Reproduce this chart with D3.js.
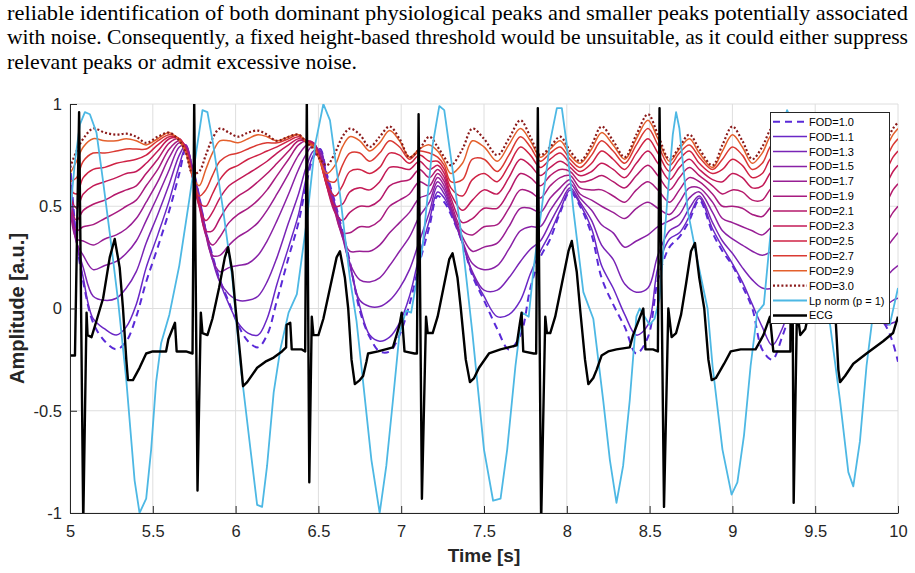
<!DOCTYPE html>
<html>
<head>
<meta charset="utf-8">
<script src="https://cdn.jsdelivr.net/npm/d3@7"></script>
<style>
  html, body { margin: 0; padding: 0; background: #fff; }
  svg { display: block; }
</style>
</head>
<body>
<svg id="fig" width="915" height="573"></svg>
<script>
// ---- text above the figure ----
const paraLines = [
  "reliable identification of both dominant physiological peaks and smaller peaks potentially associated",
  "with noise. Consequently, a fixed height-based threshold would be unsuitable, as it could either suppress",
  "relevant peaks or admit excessive noise."
];

// ---- axes ----
const xTicks = [5, 5.5, 6, 6.5, 7, 7.5, 8, 8.5, 9, 9.5, 10];
const xTickLabels = ["5", "5.5", "6", "6.5", "7", "7.5", "8", "8.5", "9", "9.5", "10"];
const yTicks = [-1, -0.5, 0, 0.5, 1];
const yTickLabels = ["-1", "-0.5", "0", "0.5", "1"];

// ---- FOD curves (shared time base) ----
const fodTime = [
  5.00, 5.04, 5.08, 5.14, 5.21, 5.28, 5.34, 5.40, 5.46, 5.53, 5.60, 5.66,
  5.70, 5.74, 5.78, 5.82, 5.86, 5.905, 5.96, 6.015, 6.075, 6.135, 6.19, 6.25, 6.32, 6.38, 6.43,
  6.47, 6.51, 6.55, 6.60, 6.645, 6.69, 6.75, 6.81, 6.87, 6.93, 6.99, 7.05, 7.11, 7.17, 7.22,
  7.26, 7.30, 7.37, 7.43, 7.50, 7.58, 7.65, 7.72, 7.78, 7.84, 7.90, 7.96,
  8.02, 8.08, 8.15, 8.21, 8.28, 8.35, 8.42, 8.49, 8.55, 8.62, 8.68, 8.74, 8.80,
  8.88, 8.94, 9.00, 9.06, 9.12, 9.18, 9.24, 9.30, 9.37, 9.43, 9.50, 9.56, 9.62,
  9.68, 9.75, 9.81, 9.87, 9.93, 9.97, 10.00
];

const fod30 = [
  0.69, 0.77, 0.83, 0.88, 0.86, 0.85, 0.855, 0.84, 0.81, 0.84, 0.86, 0.82,
  0.76, 0.66, 0.67, 0.75, 0.83, 0.88, 0.86, 0.84, 0.86, 0.87, 0.85, 0.82, 0.84, 0.85, 0.81,
  0.78, 0.73, 0.70, 0.76, 0.84, 0.88, 0.85, 0.79, 0.84, 0.89, 0.83, 0.74, 0.78, 0.84, 0.79,
  0.74, 0.70, 0.78, 0.88, 0.83, 0.75, 0.83, 0.92, 0.84, 0.75, 0.79, 0.84,
  0.77, 0.72, 0.80, 0.89, 0.82, 0.74, 0.85, 0.95, 0.85, 0.73, 0.79, 0.85, 0.78,
  0.70, 0.80, 0.89, 0.82, 0.73, 0.79, 0.88, 0.80, 0.72, 0.80, 0.88, 0.80, 0.73,
  0.76, 0.86, 0.82, 0.74, 0.82, 0.88, 0.91
];
const fod29 = [
  0.66, 0.72, 0.79, 0.83, 0.82, 0.82, 0.83, 0.82, 0.80, 0.83, 0.86, 0.82,
  0.76, 0.65, 0.60, 0.68, 0.76, 0.82, 0.82, 0.81, 0.83, 0.85, 0.84, 0.82, 0.84, 0.85, 0.81,
  0.79, 0.72, 0.66, 0.70, 0.79, 0.84, 0.82, 0.77, 0.81, 0.87, 0.82, 0.74, 0.78, 0.80, 0.77,
  0.72, 0.66, 0.71, 0.82, 0.79, 0.72, 0.80, 0.88, 0.82, 0.74, 0.78, 0.82,
  0.75, 0.71, 0.78, 0.86, 0.80, 0.73, 0.83, 0.92, 0.83, 0.72, 0.78, 0.83, 0.76,
  0.69, 0.77, 0.85, 0.79, 0.71, 0.76, 0.85, 0.78, 0.72, 0.80, 0.87, 0.80, 0.73,
  0.72, 0.80, 0.78, 0.72, 0.79, 0.85, 0.88
];
const fod27 = [
  0.62, 0.64, 0.72, 0.76, 0.76, 0.77, 0.78, 0.78, 0.78, 0.82, 0.85, 0.83,
  0.77, 0.65, 0.55, 0.58, 0.65, 0.72, 0.75, 0.76, 0.78, 0.80, 0.81, 0.81, 0.83, 0.85, 0.81,
  0.80, 0.72, 0.63, 0.62, 0.70, 0.76, 0.76, 0.72, 0.76, 0.82, 0.79, 0.73, 0.77, 0.76, 0.74,
  0.70, 0.62, 0.63, 0.73, 0.73, 0.67, 0.75, 0.84, 0.79, 0.72, 0.76, 0.79,
  0.73, 0.69, 0.75, 0.82, 0.77, 0.71, 0.80, 0.88, 0.80, 0.70, 0.76, 0.80, 0.74,
  0.68, 0.73, 0.79, 0.75, 0.68, 0.71, 0.80, 0.75, 0.71, 0.78, 0.85, 0.80, 0.73,
  0.68, 0.72, 0.72, 0.68, 0.74, 0.80, 0.83
];
const fod25 = [
  0.58, 0.56, 0.64, 0.68, 0.69, 0.71, 0.72, 0.73, 0.75, 0.80, 0.84, 0.83,
  0.77, 0.64, 0.52, 0.50, 0.56, 0.63, 0.68, 0.70, 0.73, 0.75, 0.77, 0.79, 0.82, 0.84, 0.82,
  0.80, 0.72, 0.61, 0.55, 0.60, 0.67, 0.68, 0.66, 0.69, 0.76, 0.75, 0.71, 0.75, 0.72, 0.72,
  0.68, 0.59, 0.55, 0.63, 0.66, 0.62, 0.70, 0.79, 0.75, 0.69, 0.73, 0.76,
  0.71, 0.67, 0.71, 0.77, 0.73, 0.68, 0.76, 0.83, 0.76, 0.67, 0.73, 0.77, 0.71,
  0.66, 0.68, 0.73, 0.70, 0.64, 0.66, 0.74, 0.71, 0.69, 0.76, 0.82, 0.79, 0.73,
  0.64, 0.64, 0.65, 0.63, 0.68, 0.74, 0.77
];
const fod23 = [
  0.55, 0.49, 0.56, 0.60, 0.62, 0.64, 0.66, 0.67, 0.71, 0.77, 0.83, 0.83,
  0.78, 0.64, 0.50, 0.43, 0.47, 0.54, 0.60, 0.63, 0.66, 0.69, 0.72, 0.76, 0.80, 0.83, 0.82,
  0.80, 0.73, 0.60, 0.50, 0.51, 0.57, 0.59, 0.58, 0.62, 0.69, 0.69, 0.68, 0.72, 0.68, 0.70,
  0.66, 0.56, 0.48, 0.53, 0.58, 0.56, 0.64, 0.73, 0.70, 0.65, 0.69, 0.72,
  0.69, 0.65, 0.67, 0.71, 0.68, 0.64, 0.71, 0.77, 0.71, 0.63, 0.69, 0.73, 0.68,
  0.63, 0.62, 0.66, 0.64, 0.59, 0.60, 0.67, 0.66, 0.66, 0.73, 0.79, 0.78, 0.73,
  0.60, 0.56, 0.57, 0.56, 0.61, 0.67, 0.70
];
const fod21 = [
  0.52, 0.43, 0.48, 0.51, 0.53, 0.56, 0.58, 0.60, 0.66, 0.73, 0.81, 0.83,
  0.78, 0.64, 0.50, 0.38, 0.38, 0.44, 0.51, 0.55, 0.58, 0.62, 0.66, 0.71, 0.77, 0.82, 0.82,
  0.81, 0.73, 0.60, 0.47, 0.43, 0.47, 0.50, 0.50, 0.53, 0.60, 0.62, 0.63, 0.68, 0.64, 0.68,
  0.64, 0.54, 0.42, 0.44, 0.49, 0.49, 0.57, 0.66, 0.64, 0.60, 0.65, 0.68,
  0.67, 0.62, 0.63, 0.65, 0.62, 0.59, 0.65, 0.70, 0.65, 0.58, 0.64, 0.69, 0.65,
  0.60, 0.56, 0.58, 0.57, 0.53, 0.53, 0.59, 0.59, 0.61, 0.69, 0.75, 0.76, 0.72,
  0.57, 0.48, 0.48, 0.48, 0.52, 0.58, 0.61
];
const fod19 = [
  0.50, 0.38, 0.40, 0.41, 0.44, 0.47, 0.50, 0.53, 0.60, 0.68, 0.78, 0.82,
  0.79, 0.65, 0.51, 0.36, 0.31, 0.35, 0.42, 0.46, 0.49, 0.53, 0.58, 0.65, 0.73, 0.80, 0.82,
  0.81, 0.74, 0.61, 0.47, 0.37, 0.37, 0.40, 0.40, 0.43, 0.50, 0.53, 0.56, 0.62, 0.60, 0.66,
  0.62, 0.52, 0.38, 0.36, 0.40, 0.41, 0.49, 0.58, 0.57, 0.54, 0.60, 0.64,
  0.65, 0.59, 0.58, 0.58, 0.55, 0.52, 0.58, 0.62, 0.58, 0.52, 0.58, 0.64, 0.62,
  0.56, 0.50, 0.50, 0.49, 0.46, 0.45, 0.50, 0.51, 0.55, 0.63, 0.70, 0.73, 0.71,
  0.55, 0.41, 0.38, 0.38, 0.42, 0.47, 0.50
];
const fod17 = [
  0.50, 0.34, 0.33, 0.31, 0.34, 0.36, 0.39, 0.44, 0.52, 0.62, 0.74, 0.81,
  0.79, 0.66, 0.52, 0.36, 0.26, 0.26, 0.31, 0.35, 0.38, 0.42, 0.48, 0.56, 0.66, 0.75, 0.80,
  0.81, 0.75, 0.62, 0.48, 0.35, 0.28, 0.28, 0.28, 0.31, 0.37, 0.42, 0.47, 0.54, 0.56, 0.64,
  0.60, 0.50, 0.35, 0.28, 0.30, 0.32, 0.40, 0.49, 0.49, 0.47, 0.54, 0.59,
  0.63, 0.56, 0.53, 0.50, 0.47, 0.44, 0.49, 0.52, 0.49, 0.46, 0.52, 0.59, 0.59,
  0.52, 0.44, 0.42, 0.40, 0.38, 0.36, 0.40, 0.42, 0.47, 0.56, 0.64, 0.70, 0.70,
  0.54, 0.36, 0.28, 0.27, 0.30, 0.34, 0.37
];
const fod15 = [
  0.53, 0.32, 0.26, 0.19, 0.21, 0.23, 0.27, 0.33, 0.43, 0.55, 0.68, 0.79,
  0.80, 0.67, 0.53, 0.37, 0.24, 0.18, 0.20, 0.21, 0.22, 0.26, 0.33, 0.43, 0.56, 0.68, 0.76,
  0.80, 0.76, 0.63, 0.49, 0.35, 0.22, 0.14, 0.13, 0.15, 0.21, 0.28, 0.35, 0.45, 0.52, 0.62,
  0.58, 0.49, 0.33, 0.22, 0.19, 0.21, 0.29, 0.38, 0.40, 0.40, 0.48, 0.55,
  0.61, 0.54, 0.48, 0.41, 0.37, 0.30, 0.33, 0.36, 0.40, 0.43, 0.46, 0.54, 0.57,
  0.47, 0.38, 0.34, 0.31, 0.28, 0.26, 0.28, 0.30, 0.37, 0.47, 0.58, 0.66, 0.69,
  0.53, 0.33, 0.19, 0.14, 0.16, 0.19, 0.21
];
const fod13 = [
  0.58, 0.32, 0.20, 0.06, 0.04, 0.05, 0.10, 0.18, 0.32, 0.46, 0.61, 0.75,
  0.80, 0.68, 0.54, 0.38, 0.24, 0.13, 0.07, 0.04, 0.04, 0.06, 0.13, 0.25, 0.42, 0.56, 0.70,
  0.77, 0.77, 0.64, 0.50, 0.36, 0.21, 0.04, 0.01, 0.01, 0.04, 0.10, 0.19, 0.33, 0.47, 0.60,
  0.56, 0.48, 0.32, 0.18, 0.09, 0.09, 0.15, 0.23, 0.29, 0.33, 0.42, 0.51,
  0.59, 0.52, 0.43, 0.31, 0.24, 0.12, 0.08, 0.10, 0.26, 0.38, 0.41, 0.49, 0.55,
  0.42, 0.33, 0.27, 0.20, 0.14, 0.10, 0.10, 0.14, 0.24, 0.37, 0.50, 0.61, 0.68,
  0.52, 0.31, 0.14, 0.02, 0.02, 0.04, 0.05
];
const fod11 = [
  0.66, 0.33, 0.15, -0.05, -0.10, -0.13, -0.09, 0.02, 0.20, 0.36, 0.53, 0.70,
  0.79, 0.69, 0.55, 0.38, 0.25, 0.13, 0.02, -0.07, -0.12, -0.13, -0.05, 0.12, 0.30, 0.46, 0.65,
  0.75, 0.78, 0.65, 0.51, 0.37, 0.22, 0.01, -0.13, -0.16, -0.14, -0.07, 0.06, 0.26, 0.43, 0.57,
  0.54, 0.47, 0.32, 0.17, 0.06, -0.04, -0.03, 0.04, 0.17, 0.28, 0.37, 0.48,
  0.58, 0.51, 0.39, 0.21, 0.10, -0.03, -0.13, -0.08, 0.20, 0.34, 0.37, 0.45, 0.54,
  0.39, 0.30, 0.22, 0.13, 0.02, -0.09, -0.18, -0.10, 0.08, 0.26, 0.43, 0.57, 0.66,
  0.51, 0.30, 0.12, -0.01, -0.08, -0.07, -0.06
];
const fod10 = [
  0.72, 0.33, 0.13, -0.07, -0.16, -0.20, -0.16, -0.04, 0.13, 0.30, 0.48, 0.66,
  0.78, 0.69, 0.55, 0.38, 0.26, 0.14, 0.03, -0.08, -0.16, -0.19, -0.13, 0.04, 0.25, 0.42, 0.62,
  0.74, 0.78, 0.66, 0.52, 0.38, 0.23, -0.01, -0.14, -0.21, -0.21, -0.13, 0.02, 0.22, 0.40, 0.55,
  0.52, 0.46, 0.32, 0.16, 0.04, -0.10, -0.20, -0.13, 0.10, 0.25, 0.34, 0.47,
  0.57, 0.50, 0.36, 0.15, 0.02, -0.09, -0.22, -0.14, 0.14, 0.30, 0.35, 0.43, 0.53,
  0.37, 0.28, 0.21, 0.11, 0.00, -0.20, -0.25, -0.14, 0.04, 0.22, 0.40, 0.55, 0.65,
  0.50, 0.30, 0.12, -0.02, -0.09, -0.17, -0.26
];

// ---- Lp norm (p = 1) ----
const lpT = [
  5.00, 5.03, 5.06, 5.09, 5.12, 5.16, 5.20, 5.24, 5.29, 5.34, 5.39, 5.42, 5.46, 5.49, 5.52, 5.55,
  5.60, 5.66, 5.72, 5.765, 5.80, 5.83, 5.865, 5.925, 5.98, 6.03, 6.09, 6.13, 6.16, 6.19, 6.23, 6.27,
  6.32, 6.37, 6.43, 6.48, 6.53, 6.57, 6.63, 6.69, 6.73, 6.77, 6.82, 6.87, 6.91, 6.95, 6.99, 7.03,
  7.06, 7.13, 7.19, 7.23, 7.26, 7.31, 7.37, 7.43, 7.50, 7.555, 7.60, 7.64, 7.69, 7.73, 7.77, 7.80,
  7.85, 7.90, 7.94, 7.97, 8.00, 8.04, 8.10, 8.16, 8.22, 8.26, 8.30, 8.34, 8.38, 8.42, 8.44, 8.50,
  8.53, 8.56, 8.61, 8.64, 8.66, 8.68, 8.73, 8.79, 8.85, 8.88, 8.94, 8.995, 9.03, 9.07, 9.11, 9.15,
  9.19, 9.24, 9.29, 9.33, 9.37, 9.43, 9.50, 9.55, 9.59, 9.65, 9.70, 9.73, 9.77, 9.81, 9.85, 9.90,
  9.95, 10.00
];
const lpV = [
  0.46, 0.72, 0.90, 0.96, 0.95, 0.86, 0.62, 0.37, 0.04, -0.35, -0.84, -1.00, -0.93, -0.69, -0.36, -0.17,
  -0.03, 0.21, 0.53, 0.78, 0.97, 0.96, 0.80, 0.48, 0.15, -0.28, -0.69, -0.96, -0.97, -0.77, -0.41, -0.20,
  -0.02, 0.07, 0.43, 0.80, 1.00, 0.92, 0.56, 0.15, -0.06, -0.36, -0.74, -1.00, -0.77, -0.45, -0.12, -0.01,
  -0.02, 0.31, 0.80, 0.99, 0.97, 0.68, 0.32, -0.12, -0.69, -0.94, -0.93, -0.69, -0.28, -0.02, -0.04, 0.20,
  0.50, 0.82, 0.98, 0.98, 0.80, 0.48, 0.08, -0.05, -0.45, -0.74, -0.95, -0.77, -0.45, -0.04, 0.00, -0.08,
  -0.05, 0.05, 0.56, 0.85, 0.96, 0.88, 0.48, 0.23, 0.00, -0.28, -0.69, -0.91, -0.85, -0.62, -0.28, -0.02,
  0.02, 0.45, 0.85, 0.97, 0.90, 0.55, 0.15, 0.00, -0.08, -0.45, -0.80, -0.87, -0.65, -0.28, -0.02, -0.05,
  -0.08, 0.10
];

// ---- ECG ----
const ecgT = [
  5.000, 5.030, 5.055, 5.080, 5.100, 5.106, 5.130, 5.160, 5.200, 5.240, 5.270, 5.300, 5.320, 5.340,
  5.350, 5.380, 5.420, 5.460, 5.500, 5.580, 5.594, 5.634, 5.644, 5.700, 5.740,
  5.750, 5.770, 5.790, 5.800, 5.830, 5.860, 5.900, 5.935, 5.955, 5.980, 6.000, 6.030, 6.045, 6.070,
  6.130, 6.180, 6.230, 6.280, 6.305, 6.308, 6.330, 6.339, 6.400, 6.420,
  6.430, 6.445, 6.460, 6.470, 6.500, 6.530, 6.570, 6.610, 6.630, 6.660, 6.680, 6.700, 6.720, 6.750,
  6.770, 6.790, 6.800, 6.860, 6.950, 6.990, 7.003, 7.020, 7.080, 7.095,
  7.105, 7.125, 7.150, 7.160, 7.190, 7.220, 7.260, 7.290, 7.310, 7.340, 7.360, 7.390, 7.415, 7.440,
  7.470, 7.530, 7.600, 7.697, 7.717, 7.727, 7.737, 7.800, 7.815,
  7.825, 7.845, 7.870, 7.880, 7.900, 7.930, 7.970, 8.010, 8.030, 8.060, 8.080, 8.110, 8.130, 8.160,
  8.180, 8.210, 8.250, 8.300, 8.380, 8.400, 8.462, 8.475, 8.520, 8.550,
  8.560, 8.587, 8.613, 8.633, 8.660, 8.690, 8.720, 8.750, 8.774, 8.800, 8.830, 8.855, 8.875, 8.900,
  8.950, 8.990, 9.050, 9.140, 9.187, 9.227, 9.247, 9.307, 9.350,
  9.358, 9.370, 9.390, 9.410, 9.440, 9.480, 9.530, 9.560, 9.590, 9.620, 9.640, 9.650, 9.680, 9.730,
  9.810, 9.910, 9.970, 10.000
];
const ecgV = [
  -0.23, -0.23, 0.96, -1.05, -0.02, -0.13, -0.14, -0.06, 0.05, 0.25, 0.34, 0.20, 0.00, -0.25,
  -0.35, -0.35, -0.29, -0.22, -0.21, -0.21, -0.15, -0.07, -0.21, -0.21, -0.22,
  1.02, -0.89, -0.02, -0.12, -0.13, -0.05, 0.10, 0.25, 0.30, 0.18, 0.00, -0.25, -0.38, -0.36,
  -0.29, -0.26, -0.24, -0.21, -0.19, -0.08, -0.07, -0.20, -0.20, -0.21,
  1.02, -0.85, -0.04, -0.13, -0.13, -0.05, 0.10, 0.25, 0.28, 0.15, 0.00, -0.25, -0.37, -0.35,
  -0.33, -0.26, -0.22, -0.21, -0.19, -0.08, -0.02, -0.21, -0.22, -0.22,
  0.95, -0.93, -0.04, -0.12, -0.12, -0.04, 0.12, 0.24, 0.27, 0.15, 0.00, -0.25, -0.36, -0.34,
  -0.29, -0.22, -0.20, -0.18, -0.07, -0.02, -0.21, -0.22, -0.22,
  0.98, -1.05, -0.04, -0.12, -0.12, -0.04, 0.12, 0.28, 0.33, 0.18, 0.00, -0.25, -0.37, -0.34,
  -0.30, -0.23, -0.21, -0.20, -0.19, -0.13, 0.00, -0.20, -0.20, -0.21,
  0.98, -0.97, 0.00, -0.14, -0.12, -0.03, 0.12, 0.28, 0.32, 0.15, 0.00, -0.25, -0.35, -0.34,
  -0.27, -0.21, -0.20, -0.20, -0.13, -0.04, -0.21, -0.21, -0.21,
  0.95, -0.95, 0.00, -0.13, -0.10, 0.05, 0.25, 0.30, 0.15, 0.00, -0.30, -0.36, -0.33, -0.27,
  -0.22, -0.16, -0.12, -0.04
];

const legendLabels = ["FOD=1.0", "FOD=1.1", "FOD=1.3", "FOD=1.5", "FOD=1.7", "FOD=1.9", "FOD=2.1",
  "FOD=2.3", "FOD=2.5", "FOD=2.7", "FOD=2.9", "FOD=3.0", "Lp norm (p = 1)", "ECG"];

// ---- drawing ----
const svg = d3.select("#fig");
const plot = { left: 70, right: 898, top: 104, bottom: 513 };

const x = d3.scaleLinear().domain([5, 10]).range([plot.left, plot.right]);
const y = d3.scaleLinear().domain([-1, 1]).range([plot.bottom, plot.top]);

svg.append("rect").attr("width", 915).attr("height", 573).attr("fill", "#fff");

// paragraph (justified lines)
const paraWidths = [901, 901, 350];
paraLines.forEach((s, i) => {
  svg.append("text")
    .attr("x", 7)
    .attr("y", 19.5 + i * 24.6)
    .attr("font-family", "'Liberation Serif', 'Times New Roman', serif")
    .attr("font-size", 21.5)
    .attr("fill", "#000")
    .attr("textLength", paraWidths[i])
    .attr("lengthAdjust", "spacingAndGlyphs")
    .text(s);
});

// grid
const grid = svg.append("g").attr("stroke", "#dedede").attr("stroke-width", 1);
grid.selectAll(".gx").data(xTicks).enter().append("line")
  .attr("x1", d => x(d)).attr("x2", d => x(d))
  .attr("y1", y(-1)).attr("y2", y(1));
grid.selectAll(".gy").data(yTicks).enter().append("line")
  .attr("x1", x(5)).attr("x2", x(10))
  .attr("y1", d => y(d)).attr("y2", d => y(d));

svg.append("clipPath").attr("id", "clip").append("rect")
  .attr("x", plot.left).attr("y", plot.top)
  .attr("width", plot.right - plot.left).attr("height", plot.bottom - plot.top);

const curves = svg.append("g").attr("clip-path", "url(#clip)");

const fodSeries = [
  { values: fod10, color: "#5a2ad8", width: 2.0, dash: "7,5" },
  { values: fod11, color: "#6a27c6", width: 1.5, dash: null },
  { values: fod13, color: "#7924b6", width: 1.5, dash: null },
  { values: fod15, color: "#8921a6", width: 1.5, dash: null },
  { values: fod17, color: "#981e94", width: 1.5, dash: null },
  { values: fod19, color: "#a71b80", width: 1.5, dash: null },
  { values: fod21, color: "#b5196b", width: 1.5, dash: null },
  { values: fod23, color: "#c31a57", width: 1.5, dash: null },
  { values: fod25, color: "#cf2244", width: 1.5, dash: null },
  { values: fod27, color: "#da3a33", width: 1.5, dash: null },
  { values: fod29, color: "#e4602c", width: 1.5, dash: null },
  { values: fod30, color: "#8b1a1a", width: 2.2, dash: "2,2.2" }
];

const fodLine = d3.line()
  .x((d, i) => x(fodTime[i]))
  .y(d => y(d))
  .curve(d3.curveCatmullRom.alpha(0.5));

fodSeries.forEach(s => {
  curves.append("path")
    .attr("d", fodLine(s.values))
    .attr("fill", "none")
    .attr("stroke", s.color)
    .attr("stroke-width", s.width)
    .attr("stroke-dasharray", s.dash);
});

const lpLine = d3.line().x((d, i) => x(lpT[i])).y(d => y(d));
curves.append("path")
  .attr("d", lpLine(lpV))
  .attr("fill", "none")
  .attr("stroke", "#4db8e4")
  .attr("stroke-width", 1.8)
  .attr("stroke-linejoin", "round");

const ecgLine = d3.line().x((d, i) => x(ecgT[i])).y(d => y(d));
curves.append("path")
  .attr("d", ecgLine(ecgV))
  .attr("fill", "none")
  .attr("stroke", "#000")
  .attr("stroke-width", 2.4)
  .attr("stroke-linejoin", "round");

// axes (MATLAB style: ticks inside, no box)
const axisFont = "'Liberation Sans', Arial, Helvetica, sans-serif";
const yAxis = svg.append("g")
  .attr("transform", `translate(${plot.left},0)`)
  .call(d3.axisLeft(y).tickValues(yTicks).tickFormat((d, i) => yTickLabels[i])
    .tickSizeInner(-7).tickSizeOuter(0).tickPadding(8));
const xAxis = svg.append("g")
  .attr("transform", `translate(0,${plot.bottom})`)
  .call(d3.axisBottom(x).tickValues(xTicks).tickFormat((d, i) => xTickLabels[i])
    .tickSizeInner(-7).tickSizeOuter(0).tickPadding(12));
[xAxis, yAxis].forEach(a => {
  a.select(".domain").attr("stroke", "#262626");
  a.selectAll(".tick line").attr("stroke", "#262626");
  a.selectAll(".tick text")
    .attr("fill", "#262626")
    .style("font-family", axisFont)
    .style("font-size", "16.5px");
});

svg.append("text")
  .attr("x", (plot.left + plot.right) / 2)
  .attr("y", 562)
  .attr("text-anchor", "middle")
  .style("font-family", axisFont)
  .style("font-size", "19px")
  .style("font-weight", "bold")
  .attr("fill", "#262626")
  .text("Time [s]");

svg.append("text")
  .attr("transform", `translate(24,${(plot.top + plot.bottom) / 2}) rotate(-90)`)
  .attr("text-anchor", "middle")
  .style("font-family", axisFont)
  .style("font-size", "20px")
  .style("font-weight", "bold")
  .attr("fill", "#262626")
  .text("Amplitude [a.u.]");

// legend
const legendStyles = fodSeries.map(s => ({ color: s.color, width: s.width, dash: s.dash }))
  .concat([{ color: "#4db8e4", width: 1.8, dash: null }, { color: "#000", width: 2.5, dash: null }]);
const lg = svg.append("g");
lg.append("rect")
  .attr("x", 770.5).attr("y", 112.5)
  .attr("width", 119).attr("height", 211)
  .attr("fill", "#fff")
  .attr("stroke", "#262626")
  .attr("stroke-width", 1);
legendLabels.forEach((lab, i) => {
  const cy = 121.7 + i * 14.9;
  const st = legendStyles[i];
  lg.append("line")
    .attr("x1", 773).attr("x2", 807)
    .attr("y1", cy).attr("y2", cy)
    .attr("stroke", st.color)
    .attr("stroke-width", st.width)
    .attr("stroke-dasharray", st.dash);
  lg.append("text")
    .attr("x", 809).attr("y", cy + 4)
    .style("font-family", axisFont)
    .style("font-size", "11px")
    .attr("fill", "#000")
    .text(lab);
});
</script>
</body>
</html>
